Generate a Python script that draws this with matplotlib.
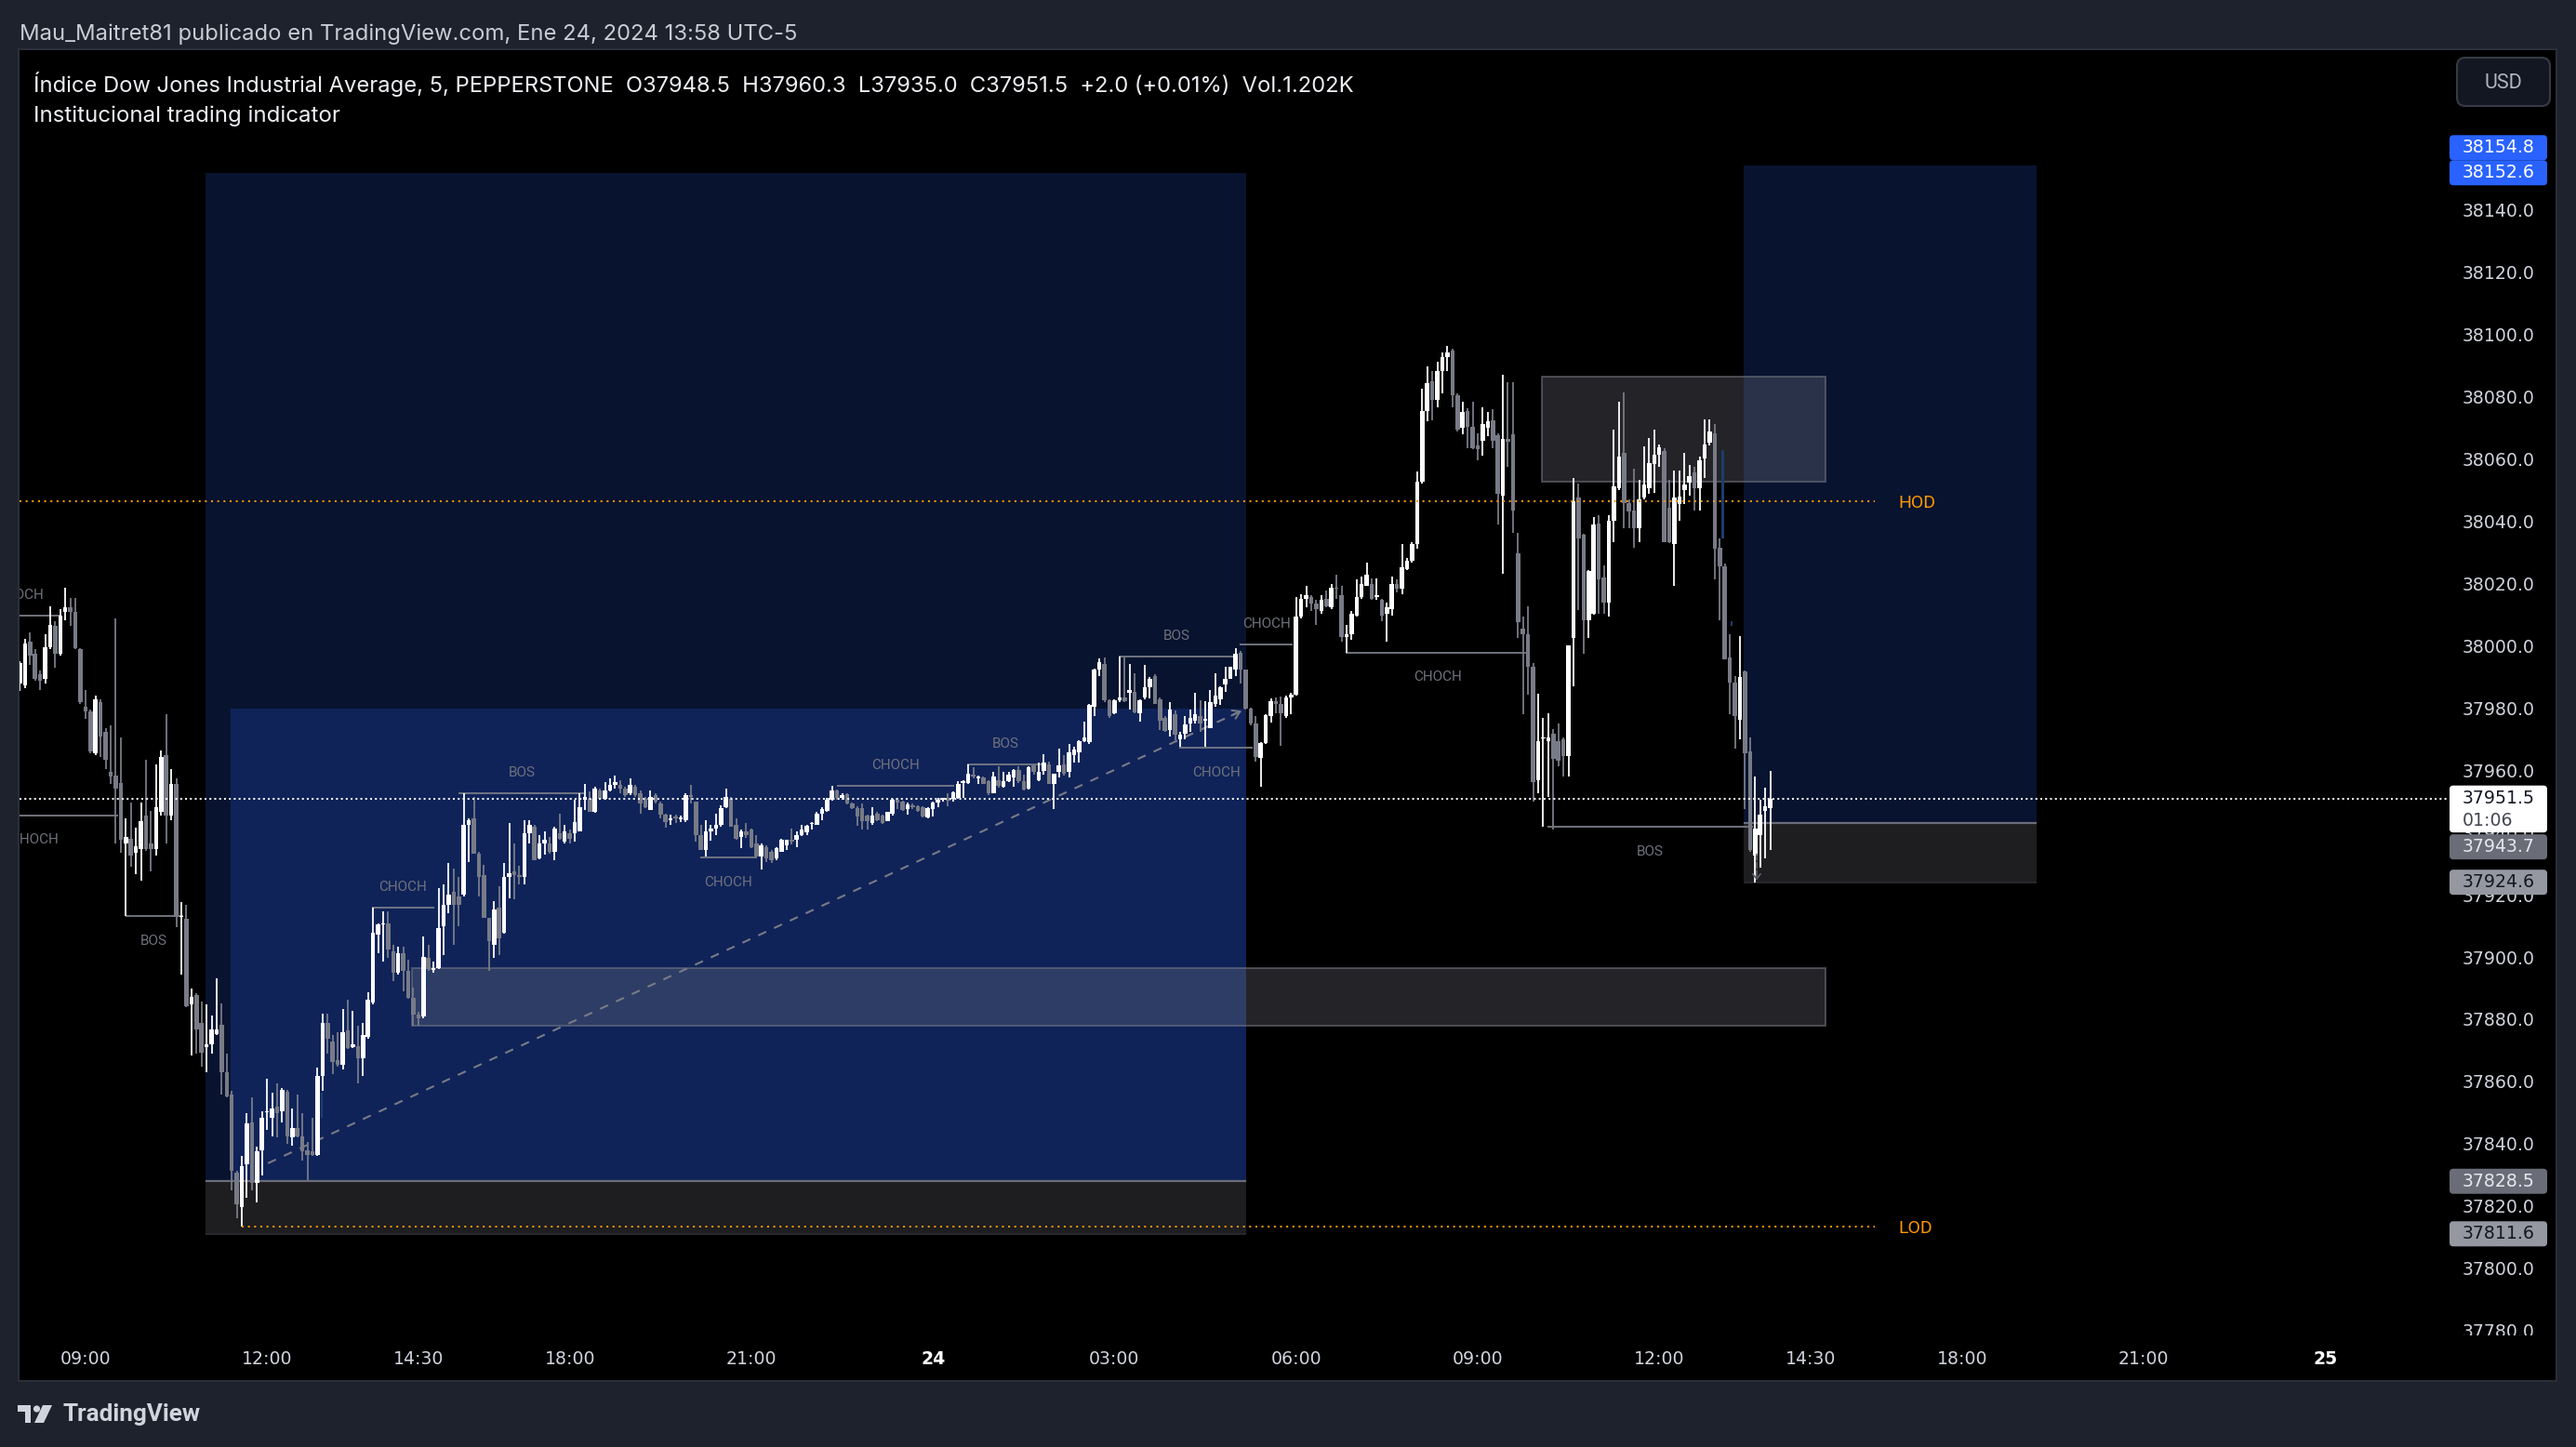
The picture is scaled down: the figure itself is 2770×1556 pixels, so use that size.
import numpy as np
import matplotlib
matplotlib.use("Agg")
import matplotlib.pyplot as plt
from matplotlib.patches import Rectangle, FancyBboxPatch, Circle, Polygon
from datetime import datetime

# ------------------------------------------------------------------ data
first_bar_time = "2024-01-23 07:55"      # 5-minute bars, daily break 17:00-18:00

opens = [
    37988.5, 37988.0, 38001.9, 37997.9, 37991.5, 37990.0, 38000.0, 38006.9, 37998.0, 38011.4,
    38012.9, 38011.4, 37999.4, 37981.0, 37979.5, 37966.0, 37982.5, 37973.0, 37960.0, 37959.0,
    37956.6, 37937.2, 37938.7, 37934.2, 37935.2, 37946.1, 37937.2, 37935.2, 37947.1, 37965.5,
    37946.1, 37956.1, 37913.3, 37912.8, 37885.3, 37888.3, 37879.4, 37871.6, 37872.4, 37875.9,
    37878.9, 37863.4, 37856.5, 37831.3, 37820.1, 37834.0, 37847.5, 37828.0, 37838.5, 37850.6,
    37849.0, 37852.5, 37851.0, 37857.4, 37842.5, 37845.5, 37843.0, 37838.5, 37838.0, 37837.0,
    37862.4, 37879.4, 37873.4, 37867.4, 37865.9, 37876.9, 37871.6, 37871.9, 37867.9, 37874.9,
    37885.9, 37907.8, 37911.0, 37911.5, 37902.4, 37895.5, 37901.9, 37896.0, 37887.5, 37882.1,
    37881.5, 37900.3, 37896.5, 37896.9, 37910.4, 37917.4, 37921.6, 37920.0, 37920.6, 37943.0,
    37945.1, 37933.9, 37927.0, 37913.1, 37904.5, 37916.3, 37908.3, 37926.4, 37928.0, 37927.0,
    37926.4, 37940.3, 37942.4, 37932.3, 37937.1, 37937.1, 37934.4, 37940.3, 37937.6, 37940.3,
    37940.3, 37940.8, 37951.0, 37951.5, 37947.2, 37954.2, 37951.5, 37954.2, 37956.0, 37955.8,
    37954.7, 37953.1, 37955.3, 37953.1, 37951.5, 37947.8, 37952.6, 37950.0, 37946.2, 37944.6,
    37945.6, 37944.8, 37944.6, 37952.6, 37950.5, 37939.8, 37935.0, 37941.0, 37941.9, 37943.0,
    37948.8, 37951.5, 37943.0, 37939.2, 37940.8, 37941.4, 37937.1, 37932.8, 37936.0, 37934.4,
    37932.3, 37934.4, 37936.6, 37938.2, 37938.2, 37939.8, 37940.6, 37943.2, 37943.1, 37946.6,
    37947.6, 37951.1, 37954.0, 37951.7, 37953.0, 37950.0, 37948.5, 37948.3, 37946.1, 37943.6,
    37946.6, 37946.1, 37944.1, 37946.6, 37951.1, 37950.6, 37948.1, 37949.4, 37949.1, 37948.6,
    37945.3, 37948.1, 37950.1, 37951.1, 37951.6, 37951.3, 37951.6, 37956.6, 37956.6, 37959.3,
    37958.1, 37958.3, 37957.0, 37953.2, 37957.5, 37955.3, 37957.1, 37958.3, 37960.8, 37957.1,
    37954.6, 37962.2, 37957.5, 37960.5, 37962.5, 37956.3, 37960.0, 37962.5, 37960.0, 37965.5,
    37966.2, 37970.0, 37969.5, 37981.0, 37992.9, 37994.6, 37983.0, 37979.0, 37983.1, 37984.1,
    37985.4, 37985.7, 37979.0, 37984.1, 37987.4, 37990.9, 37983.4, 37977.5, 37973.5, 37978.5,
    37970.5, 37972.2, 37975.5, 37976.5, 37978.0, 37976.5, 37974.2, 37982.0, 37983.5, 37988.1,
    37990.1, 37992.9, 37998.4, 37992.9, 37980.5, 37975.5, 37964.5, 37969.2, 37978.0, 37982.8,
    37981.9, 37978.0, 37984.0, 37985.0, 38009.9, 38015.8, 38016.3, 38014.3, 38011.9, 38015.8,
    38012.9, 38019.3, 38017.0, 38003.4, 38004.4, 38010.4, 38016.3, 38019.8, 38020.3, 38016.3,
    38015.3, 38010.9, 38012.4, 38020.3, 38018.8, 38025.3, 38027.8, 38033.3, 38053.2, 38076.1,
    38085.6, 38079.6, 38089.0, 38093.5, 38095.5, 38081.1, 38070.6, 38076.1, 38071.1, 38065.0,
    38066.6, 38070.6, 38073.1, 38068.3, 38048.8, 38067.1, 38068.5, 38030.3, 38006.0, 38004.2,
    37993.9, 37957.3, 37970.7, 37969.9, 37972.2, 37969.9, 37970.5, 37965.3, 38003.1, 38048.2,
    38036.2, 38008.8, 38011.0, 38039.9, 38022.5, 38014.5, 38040.8, 38051.2, 38062.6, 38046.5,
    38044.2, 38038.5, 38048.2, 38051.1, 38059.1, 38062.0, 38063.1, 38045.0, 38033.4, 38046.0,
    38050.5, 38052.9, 38056.2, 38051.1, 38060.9, 38066.0, 38068.8, 38032.2, 38026.0, 37996.8,
    37988.8, 37976.8, 37992.2, 37966.5, 37933.3, 37939.6, 37947.4, 37948.5,
]
highs = [
    37995.5, 38002.9, 38004.9, 37999.4, 37992.5, 38004.4, 38013.4, 38008.4, 38012.4, 38019.1,
    38015.9, 38015.9, 37999.9, 37986.5, 37980.0, 37984.5, 37983.5, 37974.0, 37975.0, 38009.4,
    37971.0, 37945.1, 37950.1, 37942.1, 37950.1, 37964.1, 37947.6, 37962.6, 37967.0, 37978.5,
    37961.1, 37958.1, 37918.2, 37917.2, 37890.3, 37888.8, 37886.3, 37885.3, 37881.8, 37893.8,
    37885.8, 37869.4, 37857.5, 37832.0, 37836.5, 37850.5, 37855.5, 37839.5, 37851.0, 37861.4,
    37857.0, 37860.0, 37858.5, 37858.0, 37852.0, 37856.5, 37850.5, 37841.0, 37849.0, 37864.9,
    37882.5, 37882.4, 37875.4, 37876.4, 37883.8, 37886.8, 37883.3, 37878.4, 37879.4, 37889.3,
    37916.3, 37911.5, 37915.2, 37915.2, 37904.5, 37904.0, 37904.0, 37899.7, 37890.7, 37883.0,
    37907.2, 37904.5, 37899.0, 37922.7, 37923.8, 37930.7, 37929.1, 37926.4, 37953.1, 37945.1,
    37952.0, 37934.4, 37930.2, 37913.1, 37918.4, 37923.2, 37930.7, 37943.5, 37937.1, 37930.0,
    37944.6, 37944.6, 37943.0, 37939.8, 37940.8, 37939.2, 37942.4, 37946.7, 37943.0, 37941.5,
    37951.0, 37953.1, 37956.3, 37953.7, 37955.3, 37954.7, 37956.9, 37957.9, 37959.0, 37957.4,
    37955.3, 37957.9, 37955.8, 37954.2, 37952.0, 37954.2, 37953.1, 37950.5, 37946.5, 37946.2,
    37946.2, 37946.0, 37953.1, 37955.8, 37950.5, 37943.0, 37944.6, 37943.0, 37946.7, 37949.4,
    37954.7, 37952.0, 37945.1, 37941.4, 37943.5, 37941.9, 37939.8, 37937.1, 37936.6, 37934.9,
    37936.0, 37938.7, 37938.2, 37941.8, 37940.8, 37943.0, 37943.1, 37944.0, 37947.1, 37948.6,
    37951.6, 37955.6, 37954.5, 37953.3, 37953.3, 37950.3, 37949.0, 37950.0, 37946.2, 37948.6,
    37947.1, 37946.2, 37947.3, 37951.3, 37951.6, 37950.9, 37950.1, 37949.9, 37949.4, 37949.1,
    37948.6, 37950.6, 37951.6, 37951.8, 37953.1, 37953.8, 37957.0, 37957.5, 37962.5, 37961.5,
    37958.8, 37958.6, 37957.3, 37960.2, 37961.8, 37960.2, 37960.1, 37961.0, 37961.8, 37959.1,
    37961.8, 37962.5, 37963.0, 37965.8, 37963.5, 37959.5, 37967.5, 37965.5, 37969.0, 37968.2,
    37970.2, 37976.2, 37982.0, 37993.1, 37996.4, 37996.7, 37983.5, 37983.5, 37997.1, 37996.7,
    37994.7, 37991.9, 37983.5, 37994.4, 37990.5, 37991.4, 37983.9, 37978.0, 37982.5, 37979.8,
    37973.0, 37978.0, 37980.2, 37985.4, 37983.0, 37982.8, 37986.4, 37991.9, 37987.7, 37993.9,
    37993.9, 37999.7, 37999.0, 37993.0, 37980.6, 37978.0, 37969.5, 37978.5, 37983.8, 37984.0,
    37984.3, 37984.5, 37985.5, 38016.3, 38017.3, 38019.8, 38017.0, 38015.3, 38016.8, 38018.3,
    38020.3, 38023.3, 38019.8, 38007.4, 38011.9, 38021.8, 38022.8, 38027.3, 38022.3, 38022.3,
    38015.8, 38014.4, 38022.8, 38021.8, 38033.3, 38028.8, 38033.8, 38056.7, 38083.1, 38090.5,
    38089.0, 38092.0, 38095.0, 38097.0, 38096.0, 38081.6, 38079.1, 38077.0, 38079.1, 38068.9,
    38077.1, 38075.6, 38076.6, 38069.0, 38087.7, 38085.4, 38085.4, 38036.8, 38009.9, 38013.4,
    37995.0, 37985.3, 37977.3, 37979.0, 37973.9, 37975.6, 37971.0, 38000.8, 38054.5, 38052.8,
    38036.7, 38025.0, 38042.0, 38042.5, 38026.5, 38042.5, 38070.0, 38079.1, 38082.0, 38047.5,
    38057.4, 38054.0, 38064.8, 38067.4, 38070.0, 38065.4, 38064.0, 38054.0, 38056.8, 38056.8,
    38062.6, 38058.7, 38058.0, 38061.5, 38073.4, 38073.4, 38071.7, 38035.0, 38027.0, 38004.2,
    37991.0, 38003.6, 37992.5, 37971.0, 37958.5, 37951.0, 37955.0, 37960.3,
]
lows = [
    37986.0, 37987.0, 37994.4, 37989.5, 37986.5, 37988.5, 37999.4, 37993.4, 37997.5, 38008.9,
    38006.9, 37999.4, 37982.0, 37977.0, 37966.0, 37965.5, 37965.0, 37961.0, 37956.1, 37937.2,
    37934.2, 37913.8, 37929.7, 37927.2, 37925.2, 37934.7, 37928.2, 37933.2, 37946.1, 37937.2,
    37944.6, 37910.3, 37894.8, 37884.4, 37868.9, 37869.4, 37865.4, 37863.4, 37869.4, 37875.4,
    37856.5, 37855.5, 37825.6, 37816.6, 37814.0, 37823.1, 37825.6, 37821.6, 37830.5, 37845.0,
    37843.0, 37842.5, 37847.5, 37840.5, 37840.0, 37842.5, 37835.0, 37829.0, 37836.5, 37836.5,
    37857.5, 37869.4, 37862.9, 37865.4, 37864.4, 37870.9, 37871.4, 37859.9, 37862.4, 37874.4,
    37885.3, 37901.9, 37899.2, 37900.3, 37892.8, 37895.0, 37889.6, 37887.0, 37878.4, 37878.4,
    37881.0, 37896.0, 37895.5, 37896.8, 37901.3, 37914.7, 37904.6, 37910.4, 37920.0, 37931.2,
    37933.9, 37920.0, 37913.1, 37896.0, 37900.3, 37901.3, 37908.0, 37919.5, 37919.0, 37923.8,
    37923.8, 37937.1, 37931.8, 37932.0, 37933.4, 37933.9, 37931.8, 37938.2, 37937.1, 37937.0,
    37937.6, 37940.8, 37947.8, 37947.2, 37947.0, 37951.0, 37951.0, 37953.7, 37954.7, 37953.1,
    37952.0, 37952.6, 37952.0, 37946.7, 37948.3, 37947.8, 37950.0, 37945.1, 37942.0, 37943.0,
    37943.5, 37944.0, 37944.0, 37949.9, 37937.6, 37935.0, 37932.8, 37938.0, 37939.8, 37942.4,
    37948.3, 37942.4, 37938.2, 37935.5, 37939.0, 37935.5, 37932.3, 37928.6, 37931.2, 37930.7,
    37931.8, 37934.4, 37935.0, 37936.8, 37936.0, 37939.5, 37939.6, 37941.5, 37942.9, 37944.6,
    37947.1, 37950.8, 37951.2, 37951.0, 37949.6, 37948.1, 37942.6, 37941.6, 37941.6, 37943.1,
    37944.1, 37943.3, 37944.1, 37946.1, 37948.1, 37947.6, 37946.3, 37948.1, 37947.1, 37945.3,
    37945.1, 37945.6, 37948.6, 37950.6, 37949.1, 37950.6, 37951.3, 37951.6, 37956.1, 37958.1,
    37956.1, 37956.1, 37952.6, 37953.1, 37955.1, 37955.1, 37956.9, 37955.3, 37956.6, 37954.1,
    37954.3, 37959.1, 37957.2, 37959.1, 37956.3, 37948.1, 37958.3, 37959.0, 37958.3, 37963.0,
    37963.0, 37969.5, 37969.0, 37978.0, 37991.0, 37982.4, 37977.5, 37978.5, 37982.5, 37982.5,
    37980.0, 37979.0, 37976.2, 37983.5, 37983.6, 37981.8, 37973.5, 37973.0, 37971.5, 37970.2,
    37968.0, 37970.5, 37973.0, 37975.5, 37973.0, 37968.0, 37974.0, 37981.0, 37981.5, 37985.7,
    37990.0, 37990.8, 37988.4, 37980.0, 37975.0, 37963.5, 37955.3, 37969.0, 37976.0, 37979.0,
    37968.5, 37977.5, 37978.5, 37984.5, 38009.4, 38012.9, 38011.7, 38007.4, 38010.9, 38012.9,
    38012.4, 38015.8, 38001.9, 37998.4, 38002.4, 38009.9, 38015.8, 38019.8, 38015.3, 38015.3,
    38008.4, 38001.9, 38010.4, 38017.8, 38017.3, 38024.8, 38027.3, 38031.8, 38052.7, 38072.6,
    38073.1, 38077.1, 38081.6, 38089.0, 38077.1, 38069.6, 38068.6, 38064.2, 38063.7, 38060.2,
    38061.7, 38068.0, 38064.0, 38039.7, 38023.7, 38058.0, 38036.8, 38003.1, 37978.5, 37984.8,
    37950.5, 37953.3, 37942.5, 37952.0, 37941.6, 37961.9, 37958.5, 37958.5, 37987.6, 38012.2,
    37998.0, 38003.0, 38010.5, 38011.0, 38011.0, 38010.0, 38034.0, 38050.5, 38038.5, 38038.5,
    38032.2, 38034.0, 38047.5, 38049.4, 38049.7, 38058.0, 38034.0, 38033.5, 38019.7, 38040.8,
    38046.0, 38048.8, 38044.2, 38044.2, 38054.5, 38065.0, 38022.0, 38008.8, 37996.2, 37978.5,
    37967.6, 37970.5, 37948.2, 37934.5, 37924.6, 37929.3, 37932.2, 37935.0,
]
closes = [
    37994.9, 38001.4, 37997.4, 37990.0, 37989.5, 38000.0, 38007.4, 37998.0, 38010.4, 38012.9,
    38011.4, 37999.9, 37982.5, 37979.5, 37966.5, 37983.5, 37971.5, 37964.0, 37958.6, 37954.6,
    37938.2, 37939.2, 37933.2, 37936.2, 37944.1, 37935.2, 37935.2, 37948.6, 37965.0, 37946.1,
    37956.1, 37913.3, 37913.8, 37884.9, 37887.8, 37877.4, 37869.9, 37872.6, 37877.4, 37877.4,
    37863.4, 37855.9, 37832.0, 37821.1, 37833.5, 37847.0, 37828.0, 37838.0, 37849.0, 37850.9,
    37852.0, 37850.5, 37858.0, 37843.0, 37845.5, 37843.0, 37838.0, 37837.0, 37837.0, 37862.4,
    37879.4, 37874.4, 37866.9, 37865.9, 37876.4, 37871.4, 37872.6, 37867.9, 37875.4, 37886.8,
    37908.3, 37911.0, 37911.2, 37903.0, 37895.5, 37901.9, 37896.0, 37887.5, 37882.1, 37881.0,
    37900.5, 37896.5, 37897.0, 37909.9, 37917.4, 37920.6, 37917.4, 37917.4, 37943.0, 37944.6,
    37933.9, 37926.4, 37913.1, 37905.6, 37915.8, 37906.7, 37926.4, 37927.5, 37927.0, 37926.4,
    37940.3, 37943.0, 37931.8, 37937.1, 37938.2, 37934.4, 37941.9, 37938.7, 37940.8, 37938.7,
    37944.0, 37948.8, 37952.0, 37947.2, 37954.7, 37951.5, 37954.2, 37955.8, 37956.8, 37954.7,
    37952.6, 37955.8, 37952.6, 37949.9, 37948.8, 37952.0, 37950.5, 37946.2, 37944.0, 37945.1,
    37945.1, 37945.5, 37952.6, 37952.0, 37939.8, 37935.0, 37940.8, 37941.9, 37943.0, 37948.3,
    37952.0, 37942.4, 37938.7, 37940.8, 37939.8, 37936.0, 37932.8, 37936.6, 37932.3, 37931.8,
    37935.5, 37938.2, 37938.2, 37937.6, 37939.8, 37941.4, 37942.8, 37943.7, 37946.6, 37948.1,
    37951.1, 37954.1, 37951.7, 37952.6, 37950.0, 37948.5, 37945.6, 37944.1, 37944.1, 37946.1,
    37944.6, 37943.6, 37947.1, 37951.1, 37950.1, 37947.9, 37949.6, 37948.8, 37947.6, 37945.6,
    37948.3, 37950.1, 37951.1, 37951.6, 37950.8, 37953.6, 37956.3, 37957.0, 37959.5, 37958.6,
    37958.6, 37956.3, 37953.1, 37958.5, 37955.5, 37957.1, 37959.1, 37960.8, 37957.1, 37954.3,
    37961.5, 37960.0, 37960.2, 37963.0, 37956.3, 37959.5, 37962.2, 37959.5, 37966.2, 37967.2,
    37970.0, 37971.2, 37981.5, 37992.9, 37995.4, 37983.0, 37978.0, 37983.1, 37984.1, 37982.8,
    37986.4, 37979.2, 37983.1, 37987.4, 37990.1, 37982.0, 37976.5, 37973.2, 37980.2, 37972.0,
    37972.0, 37975.2, 37977.5, 37978.5, 37975.5, 37976.9, 37982.5, 37984.5, 37987.4, 37990.1,
    37993.7, 37997.9, 37992.9, 37980.3, 37975.5, 37965.0, 37969.2, 37978.2, 37982.8, 37982.0,
    37979.0, 37984.0, 37985.0, 38009.9, 38015.8, 38016.8, 38014.3, 38012.4, 38015.3, 38013.4,
    38019.3, 38018.8, 38003.4, 38004.4, 38010.9, 38016.3, 38020.3, 38023.3, 38015.8, 38016.8,
    38010.4, 38012.9, 38020.3, 38018.8, 38025.8, 38027.8, 38033.3, 38053.2, 38076.1, 38085.1,
    38079.6, 38089.0, 38093.5, 38095.0, 38081.1, 38070.1, 38075.6, 38071.1, 38064.2, 38063.7,
    38071.8, 38072.6, 38066.6, 38049.4, 38067.1, 38066.1, 38044.2, 38008.2, 38004.2, 37993.9,
    37956.7, 37969.9, 37971.2, 37971.0, 37964.2, 37963.6, 37965.3, 38000.8, 38047.1, 38035.1,
    38008.8, 38024.6, 38039.7, 38021.9, 38014.5, 38040.8, 38051.7, 38061.4, 38046.5, 38043.7,
    38038.5, 38047.7, 38052.3, 38059.3, 38062.0, 38064.3, 38034.0, 38034.0, 38048.2, 38048.5,
    38052.3, 38055.1, 38051.1, 38060.3, 38065.4, 38069.4, 38031.7, 38026.0, 37996.2, 37988.8,
    37977.9, 37990.5, 37965.9, 37935.0, 37941.9, 37946.4, 37949.1, 37951.5,
]

time_tick_times = ["2024-01-23 09:00", "2024-01-23 12:00", "2024-01-23 14:30", "2024-01-23 18:00",
                   "2024-01-23 21:00", "2024-01-24 00:00", "2024-01-24 03:00", "2024-01-24 06:00",
                   "2024-01-24 09:00", "2024-01-24 12:00", "2024-01-24 14:30", "2024-01-24 18:00",
                   "2024-01-24 21:00", "2024-01-25 00:00"]
time_tick_labels = ["09:00", "12:00", "14:30", "18:00", "21:00", "24", "03:00", "06:00",
                    "09:00", "12:00", "14:30", "18:00", "21:00", "25"]
day_labels = ["24", "25"]
price_ticks = list(range(37780, 38141, 20))

last_price = 37951.5
countdown = "01:06"
hod_level = 38047.0
lod_level = 37814.0

# zones: (start bar, end bar, top price, bottom price)
zone_navy_left = (23.8, 230.1, 38152.6, 37828.5)
zone_blue_inner = (28.8, 230.1, 37980.4, 37828.5)
zone_grey_left = (23.8, 230.1, 37828.5, 37811.6)
zone_navy_right = (328.7, 386.9, 38154.8, 37943.7)
zone_grey_right = (328.7, 386.9, 37943.7, 37924.6)
zone_supply = (288.8, 344.9, 38087.2, 38053.4)
zone_demand = (64.8, 344.9, 37896.9, 37878.4)

trend_start = (36.2, 37834.3)
trend_end = (229.2, 37979.7)

# structure lines: (start bar, end bar, price, label, label side)
structure = [
    (-21.0, -5.0, 38010.2, "CHOCH", "above"),
    (-26.5, 6.4, 37946.1, "CHOCH", "below"),
    (7.9, 19.3, 37913.7, "BOS", "below"),
    (56.8, 69.1, 37916.5, "CHOCH", "above"),
    (74.0, 98.9, 37953.1, "BOS", "above"),
    (121.9, 133.0, 37932.5, "CHOCH", "below"),
    (148.9, 172.3, 37955.5, "CHOCH", "above"),
    (174.8, 189.9, 37962.6, "BOS", "above"),
    (204.9, 227.7, 37997.1, "BOS", "above"),
    (216.9, 231.4, 37967.8, "CHOCH", "below"),
    (228.8, 239.4, 38000.9, "CHOCH", "above"),
    (249.8, 286.3, 37998.4, "CHOCH", "below"),
    (289.9, 330.6, 37942.4, "BOS", "below"),
]

# small blue indicator marks: (bar, bottom, top)
blue_marks = [(46.8, 37849.0, 37857.0), (67.7, 37890.7, 37896.6),
              (324.6, 38035.0, 38063.4), (326.3, 38007.0, 38008.5)]

# ------------------------------------------------------------------ helpers
ORIGIN = datetime(2024, 1, 23, 9, 0)


def bar_pos(ts):
    t = datetime.strptime(ts, "%Y-%m-%d %H:%M")
    minutes = (t - ORIGIN).total_seconds() / 60.0
    for day in (23, 24, 25):
        brk_end = datetime(2024, 1, day, 18, 0)
        if t >= brk_end:
            minutes -= 60
    return minutes / 5.0


# ------------------------------------------------------------------ layout
W, H, DPI = 2770, 1556, 100
FRAME = "#1e222d"
PANEL_EDGE = "#2a2e39"
PANEL = (20.0, 53.0, 2749.0, 1485.0)
PLOT_L, PLOT_R, PLOT_T, PLOT_B = 20.7, 2632.0, 53.3, 1436.0
XLIM = (-13.13, 468.3)
YLIM = (37778.96, 38192.2)

BULL = "#ffffff"
BEAR = "#787b86"
GREY = "#787b86"
ORANGE = "#ff9800"
TXT = "#d1d4dc"
AXFONT = "DejaVu Sans"
LBLFONT = ["Roboto", "DejaVu Sans"]
HDRFONT = ["Inter", "Roboto", "DejaVu Sans"]
AXSIZE = 13.6

fig = plt.figure(figsize=(W / DPI, H / DPI), dpi=DPI)
fig.patch.set_facecolor(FRAME)

bg = fig.add_axes([0, 0, 1, 1], zorder=0)
bg.set_xlim(0, W)
bg.set_ylim(H, 0)
bg.axis("off")
bg.add_patch(Rectangle((PANEL[0], PANEL[1]), PANEL[2] - PANEL[0], PANEL[3] - PANEL[1],
                       fc="#000000", ec=PANEL_EDGE, lw=1.5))

ax = fig.add_axes([PLOT_L / W, 1 - PLOT_B / H, (PLOT_R - PLOT_L) / W, (PLOT_B - PLOT_T) / H],
                  zorder=2)
ax.set_facecolor("none")
ax.set_xlim(*XLIM)
ax.set_ylim(*YLIM)
for s in ax.spines.values():
    s.set_visible(False)
ax.set_yticks([])

px_per_price = (PLOT_B - PLOT_T) / (YLIM[1] - YLIM[0])


def zone(z, fc, alpha=1.0, ec="none", lw=0.0, zorder=0.5):
    x0, x1, top, bot = z
    ax.add_patch(Rectangle((x0, bot), x1 - x0, top - bot, fc=fc, alpha=alpha,
                           ec=ec, lw=lw, zorder=zorder))


zone(zone_navy_left, "#08132f", zorder=0.3)
zone(zone_navy_right, "#08132f", zorder=0.3)
zone(zone_blue_inner, "#0f2359", zorder=0.4)
for z in (zone_grey_left, zone_grey_right):
    x0, x1, top, bot = z
    ax.add_patch(Rectangle((x0, bot), x1 - x0, top - bot, fc=(0.47, 0.48, 0.53, 0.25),
                           ec="none", zorder=0.6))
    ax.plot([x0, x1], [top, top], color="#6a6d78", lw=1.6, zorder=0.7, solid_capstyle="butt")
    ax.plot([x0, x1], [bot, bot], color="#2c2d31", lw=1.2, zorder=0.7, solid_capstyle="butt")
for z in (zone_supply, zone_demand):
    x0, x1, top, bot = z
    ax.add_patch(Rectangle((x0, bot), x1 - x0, top - bot, fc=(0.47, 0.48, 0.53, 0.30),
                           ec=(0.47, 0.48, 0.53, 0.55), lw=1.4, zorder=0.8))

# trend line with arrow
ax.plot([trend_start[0], trend_end[0]], [trend_start[1], trend_end[1]], color=GREY,
        lw=1.5, ls=(0, (4.5, 4.5)), zorder=1.5)
ax.annotate("", xy=trend_end, xytext=(trend_end[0] - 2.0, trend_end[1] - 1.5),
            arrowprops=dict(arrowstyle="->,head_length=0.55,head_width=0.35", color=GREY,
                            lw=1.4, shrinkA=0, shrinkB=0), zorder=1.5)

# structure lines and labels
for x0, x1, p, lab, side in structure:
    ax.plot([x0, x1], [p, p], color=GREY, lw=1.3, zorder=2, solid_capstyle="butt")
    off = 22 if side == "above" else -26.5
    ax.annotate(lab, xy=((x0 + x1) / 2.0, p), xytext=(0, off), textcoords="offset pixels",
                ha="center", va="center", color="#6f727c", fontsize=11, family=LBLFONT,
                zorder=2, annotation_clip=False, clip_on=True)

# candles
o = np.array(opens)
h = np.array(highs)
l = np.array(lows)
c = np.array(closes)
h = np.maximum(h, np.maximum(o, c))
l = np.minimum(l, np.minimum(o, c))
x = bar_pos(first_bar_time) + np.arange(len(c))
up = c >= o
colors = np.where(up, BULL, BEAR)
ax.vlines(x, l, h, colors=colors, lw=1.3, zorder=3)
body_bot = np.minimum(o, c)
body_h = np.maximum(np.abs(c - o), 0.5)
ax.bar(x, body_h, width=0.84, bottom=body_bot, color=colors, lw=0, zorder=3.1)

for bx, b0, b1 in blue_marks:
    ax.bar([bx], [b1 - b0], width=0.45, bottom=[b0], color="#1e3c6e", lw=0, zorder=3.2)

# small arrow at final low
ax.annotate("", xy=(x[-4] + 0.3, l[-4] + 0.6), xytext=(x[-4] + 0.3, l[-4] + 9),
            arrowprops=dict(arrowstyle="->,head_length=0.4,head_width=0.3", color="#5d606b",
                            lw=1.2, ls="--", shrinkA=0, shrinkB=0), zorder=3.3)

# dotted lines
ax.axhline(last_price, color="#ffffff", lw=1.45, ls=(0, (1, 1.6)), zorder=4)
ax.hlines(hod_level, XLIM[0], 354.8, color=ORANGE, lw=1.45, ls=(0, (1, 2.3)), zorder=4)
ax.hlines(lod_level, x[44], 354.8, color=ORANGE, lw=1.45, ls=(0, (1, 2.3)), zorder=4)
ax.text(359.5, hod_level - 0.7, "HOD", color=ORANGE, fontsize=14, family=LBLFONT,
        va="center", ha="left", zorder=4)
ax.text(359.5, lod_level - 0.7, "LOD", color=ORANGE, fontsize=14, family=LBLFONT,
        va="center", ha="left", zorder=4)

# time axis
ax.set_xticks([bar_pos(t) for t in time_tick_times])
ax.set_xticklabels(time_tick_labels)
ax.tick_params(axis="x", length=0, pad=11.5, labelsize=AXSIZE, labelcolor=TXT)
for tl in ax.get_xticklabels():
    tl.set_family(AXFONT)
    if tl.get_text() in day_labels:
        tl.set_fontweight("bold")
        tl.set_color("#ffffff")

# price axis
pax = fig.add_axes([PLOT_R / W, 1 - PLOT_B / H, (PANEL[2] - PLOT_R) / W, (PLOT_B - PLOT_T) / H],
                   zorder=3)
pax.set_xlim(0, PANEL[2] - PLOT_R)
pax.set_ylim(*YLIM)
pax.axis("off")
for p in price_ticks:
    pax.text(16, p, f"{p:.1f}", color=TXT, fontsize=AXSIZE, family=AXFONT, va="center",
             ha="left", clip_on=True, zorder=1)

lbl_h = 27.0 / px_per_price


def price_box(top, bottom, fc, zorder=2):
    pax.add_patch(FancyBboxPatch((2, bottom), 105, top - bottom,
                                 boxstyle="round,pad=0,rounding_size=4",
                                 mutation_aspect=1.0 / px_per_price, fc=fc, ec="none",
                                 zorder=zorder, clip_on=True))


def price_text(y, s, col, zorder=3):
    pax.text(16, y, s, color=col, fontsize=AXSIZE, family=AXFONT, va="center", ha="left",
             zorder=zorder, clip_on=True)


# blue zone-top labels (stacked)
zt_low, zt_high = zone_navy_left[2], zone_navy_right[2]
price_box(zt_low + lbl_h / 2, zt_low - lbl_h / 2, "#2962ff")
price_box(zt_low + lbl_h * 1.5, zt_low + lbl_h / 2, "#2962ff")
price_text(zt_low, f"{zt_low:.1f}", "#ffffff")
price_text(zt_low + lbl_h, f"{zt_high:.1f}", "#ffffff")

# current price label with countdown
cur_top = last_price + 14.0 / px_per_price
cur_bot = last_price - 36.5 / px_per_price
price_box(cur_top, cur_bot, "#ffffff", zorder=4)
price_text(last_price, f"{last_price:.1f}", "#131722", zorder=5)
price_text(last_price - 23.5 / px_per_price, countdown, "#434651", zorder=5)

# right grey zone labels
zr_top, zr_bot = zone_grey_right[2], zone_grey_right[3]
b_top = cur_bot - 2.0 / px_per_price
price_box(b_top, b_top - lbl_h, "#6a6d78", zorder=3)
price_text(b_top - lbl_h / 2, f"{zr_top:.1f}", "#e6e8ee", zorder=3.5)
price_box(zr_bot + lbl_h / 2, zr_bot - lbl_h / 2, "#9598a1", zorder=3)
price_text(zr_bot, f"{zr_bot:.1f}", "#131722", zorder=3.5)

# left grey zone labels
zl_top, zl_bot = zone_grey_left[2], zone_grey_left[3]
price_box(zl_top + lbl_h / 2, zl_top - lbl_h / 2, "#6a6d78", zorder=3)
price_text(zl_top, f"{zl_top:.1f}", "#e6e8ee", zorder=3.5)
price_box(zl_bot + lbl_h / 2, zl_bot - lbl_h / 2, "#9598a1", zorder=3)
price_text(zl_bot, f"{zl_bot:.1f}", "#131722", zorder=3.5)

# ------------------------------------------------------------------ overlay (pixels)
ov = fig.add_axes([0, 0, 1, 1], zorder=10)
ov.set_xlim(0, W)
ov.set_ylim(H, 0)
ov.axis("off")
ov.patch.set_alpha(0)

header = ov.text(21, 37, "Mau_Maitret81 publicado en TradingView.com, Ene 24, 2024 13:58 UTC-5",
                 color="#c9ccd4", fontsize=14, family=HDRFONT, va="center", ha="left")
title = ov.text(36, 90, "Índice Dow Jones Industrial Average, 5, PEPPERSTONE  "
                f"O{opens[-1]:.1f}  H{highs[-1]:.1f}  L{lows[-1]:.1f}  C{closes[-1]:.1f}  "
                "+2.0 (+0.01%)  Vol.1.202K",
                color="#eceef3", fontsize=15, family=HDRFONT, va="center", ha="left")
indic = ov.text(36, 125, "Institucional trading indicator", color="#eceef3", fontsize=15,
                family=HDRFONT, va="center", ha="left")
footer = ov.text(67, 1521, "TradingView", color=TXT, fontsize=16, family=LBLFONT,
                 fontweight="bold", va="center", ha="left")

# USD button
ov.add_patch(FancyBboxPatch((2642, 62), 100, 52, boxstyle="round,pad=0,rounding_size=9",
                            fc="#131722", ec="#363a45", lw=1.5))
ov.text(2692, 89, "USD", color="#b2b5be", fontsize=15.5, family=LBLFONT, va="center",
        ha="center")

# TradingView logo
ov.add_patch(Polygon([(19, 1511), (33, 1511), (33, 1530), (26.5, 1530), (26.5, 1517.5),
                      (19, 1517.5)], closed=True, fc=TXT, ec="none"))
ov.add_patch(Circle((39.5, 1515), 3.6, fc=TXT, ec="none"))
ov.add_patch(Polygon([(46, 1511), (56, 1511), (47, 1530), (37, 1530)], closed=True,
                     fc=TXT, ec="none"))

fig.canvas.draw()
rend = fig.canvas.get_renderer()


def fit(t, target):
    w = t.get_window_extent(renderer=rend).width
    if w > 0:
        t.set_fontsize(t.get_fontsize() * target / w)


fit(header, 836)
fit(title, 1422)
fit(indic, 330)
fit(footer, 149)

fig.savefig("out.png", dpi=DPI, facecolor=fig.get_facecolor())
